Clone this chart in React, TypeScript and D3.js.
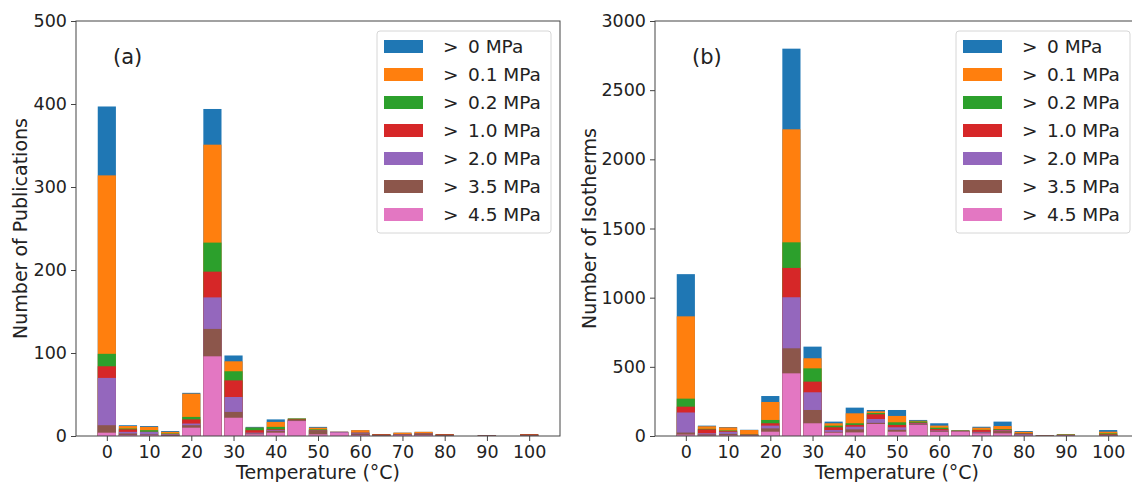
import React, { useEffect, useRef } from "react";
import * as d3 from "d3";

// temperature bins (°C), 5 degree steps
const temps = [0, 5, 10, 15, 20, 25, 30, 35, 40, 45, 50, 55, 60, 65, 70, 75, 80, 85, 90, 95, 100];
const pressures = ["0", "0.1", "0.2", "1.0", "2.0", "3.5", "4.5"];
const colors = ["#1f77b4", "#ff7f0e", "#2ca02c", "#d62728", "#9467bd", "#8c564b", "#e377c2"];
const xTicks = [0, 10, 20, 30, 40, 50, 60, 70, 80, 90, 100];
const yTicksA = [0, 100, 200, 300, 400, 500];
const yTicksB = [0, 500, 1000, 1500, 2000, 2500, 3000];

// (a) number of publications with pressure above each threshold
const pubs0 = [397, 13, 12, 6, 52, 394, 97, 11, 20, 21, 11, 5, 7, 2, 4, 5, 2, 0, 1, 0, 2];
const pubs01 = [314, 12, 11, 5, 51, 351, 90, 10, 17, 21, 10, 5, 7, 2, 4, 5, 2, 0, 1, 0, 2];
const pubs02 = [99, 9, 7, 3, 23, 233, 78, 10, 11, 21, 8, 5, 4, 2, 2, 3, 2, 0, 1, 0, 2];
const pubs10 = [84, 8, 5, 2, 20, 198, 67, 7, 8, 20, 7, 5, 4, 2, 2, 3, 2, 0, 1, 0, 2];
const pubs20 = [70, 5, 5, 2, 15, 167, 47, 4, 7, 19, 7, 5, 4, 1, 2, 3, 1, 0, 1, 0, 1];
const pubs35 = [13, 3, 2, 1, 13, 129, 29, 3, 6, 19, 7, 4, 3, 1, 2, 3, 1, 0, 1, 0, 1];
const pubs45 = [4, 1, 1, 0, 10, 96, 22, 2, 4, 18, 2, 4, 1, 0, 1, 1, 0, 0, 0, 0, 0];

// (b) number of isotherms
const iso0 = [1170, 75, 65, 45, 289, 2800, 646, 104, 205, 188, 188, 116, 92, 43, 67, 104, 36, 4, 14, 0, 43];
const iso01 = [865, 70, 62, 43, 246, 2217, 562, 92, 164, 178, 145, 110, 75, 40, 60, 72, 30, 4, 12, 0, 31];
const iso02 = [270, 52, 40, 12, 116, 1400, 489, 75, 92, 166, 99, 105, 60, 38, 45, 50, 20, 3, 10, 0, 19];
const iso10 = [212, 48, 35, 10, 92, 1215, 393, 63, 80, 157, 80, 96, 50, 36, 43, 45, 18, 3, 8, 0, 12];
const iso20 = [170, 20, 30, 8, 75, 1003, 316, 43, 67, 123, 63, 90, 40, 34, 30, 40, 15, 2, 6, 0, 8];
const iso35 = [25, 12, 15, 5, 55, 634, 188, 30, 48, 95, 45, 85, 35, 33, 25, 36, 10, 2, 4, 0, 5];
const iso45 = [10, 3, 5, 2, 31, 453, 92, 24, 26, 87, 31, 80, 30, 31, 19, 19, 5, 0, 2, 0, 2];

const pubSeries = [pubs0, pubs01, pubs02, pubs10, pubs20, pubs35, pubs45];
const isoSeries = [iso0, iso01, iso02, iso10, iso20, iso35, iso45];

const FONT = "DejaVu Sans, sans-serif";

function drawPanel(svg, p) {
    const top = 21, bottom = 436;
    const x = d3.scaleLinear().domain([-7.3, 107.3]).range([p.left, p.right]);
    const y = d3.scaleLinear().domain([0, p.yMax]).range([bottom, top]);
    const bw = x(4.3) - x(0);

    const g = svg.append("g");

    // overlapping bars, largest set first
    p.series.forEach((vals, si) => {
        g.append("g")
            .attr("fill", colors[si])
            .selectAll("rect")
            .data(vals.map((v, i) => ({ t: temps[i], v })).filter(d => d.v > 0))
            .join("rect")
            .attr("x", d => x(d.t) - bw / 2)
            .attr("width", bw)
            .attr("y", d => y(d.v))
            .attr("height", d => y(0) - y(d.v));
    });

    // frame
    g.append("rect")
        .attr("x", p.left).attr("y", top)
        .attr("width", p.right - p.left).attr("height", bottom - top)
        .attr("fill", "none").attr("stroke", "#444").attr("stroke-width", 1);

    const xAxis = g.append("g").attr("transform", `translate(0,${bottom})`)
        .call(d3.axisBottom(x).tickValues(xTicks).tickFormat(d3.format("d")).tickSize(5).tickPadding(5));
    const yAxis = g.append("g").attr("transform", `translate(${p.left},0)`)
        .call(d3.axisLeft(y).tickValues(p.yTicks).tickFormat(d3.format("d")).tickSize(5).tickPadding(4));
    [xAxis, yAxis].forEach(a => {
        a.select(".domain").remove();
        a.selectAll("line").attr("stroke", "#444");
        a.selectAll("text").attr("font-family", FONT).attr("font-size", 17.5).attr("fill", "#222");
    });

    g.append("text")
        .attr("transform", `translate(${p.labelX},${(top + bottom) / 2}) rotate(-90)`)
        .attr("text-anchor", "middle").attr("dy", "0.35em")
        .attr("font-family", FONT).attr("font-size", 19).attr("fill", "#222")
        .text(p.yLabel);

    g.append("text")
        .attr("x", (p.left + p.right) / 2).attr("y", 479)
        .attr("text-anchor", "middle")
        .attr("font-family", FONT).attr("font-size", 19).attr("fill", "#222")
        .text("Temperature (°C)");

    g.append("text")
        .attr("x", p.left + 37).attr("y", 64)
        .attr("font-family", FONT).attr("font-size", 21).attr("fill", "#222")
        .text(p.tag);

    // legend
    const lg = g.append("g").attr("transform", `translate(${p.right - 183},31)`);
    lg.append("rect")
        .attr("x", 0).attr("y", 0).attr("width", 174).attr("height", 202)
        .attr("rx", 3).attr("fill", "white").attr("fill-opacity", 0.85)
        .attr("stroke", "#d6d6d6");
    pressures.forEach((pr, i) => {
        const cy = 15.5 + i * 28;
        lg.append("rect")
            .attr("x", 7).attr("y", cy - 6.5).attr("width", 39).attr("height", 13)
            .attr("fill", colors[i]);
        lg.append("text")
            .attr("x", 66).attr("y", cy).attr("dy", "0.35em")
            .attr("font-family", FONT).attr("font-size", 18.5).attr("fill", "#222")
            .text(">");
        lg.append("text")
            .attr("x", 91).attr("y", cy).attr("dy", "0.35em")
            .attr("font-family", FONT).attr("font-size", 18.5).attr("fill", "#222")
            .text(`${pr} MPa`);
    });
}

export default function App() {
    const ref = useRef(null);

    useEffect(() => {
        const svg = d3.select(ref.current);
        svg.selectAll("*").remove();
        drawPanel(svg, {
            left: 76, right: 560, yMax: 500, yTicks: yTicksA, series: pubSeries,
            yLabel: "Number of Publications", labelX: 20, tag: "(a)"
        });
        drawPanel(svg, {
            left: 655, right: 1139, yMax: 3000, yTicks: yTicksB, series: isoSeries,
            yLabel: "Number of Isotherms", labelX: 589, tag: "(b)"
        });
    }, []);

    return (
        <svg ref={ref} width={1132} height={482}
            style={{ position: "absolute", left: 0, top: 0, display: "block", background: "white" }} />
    );
}
